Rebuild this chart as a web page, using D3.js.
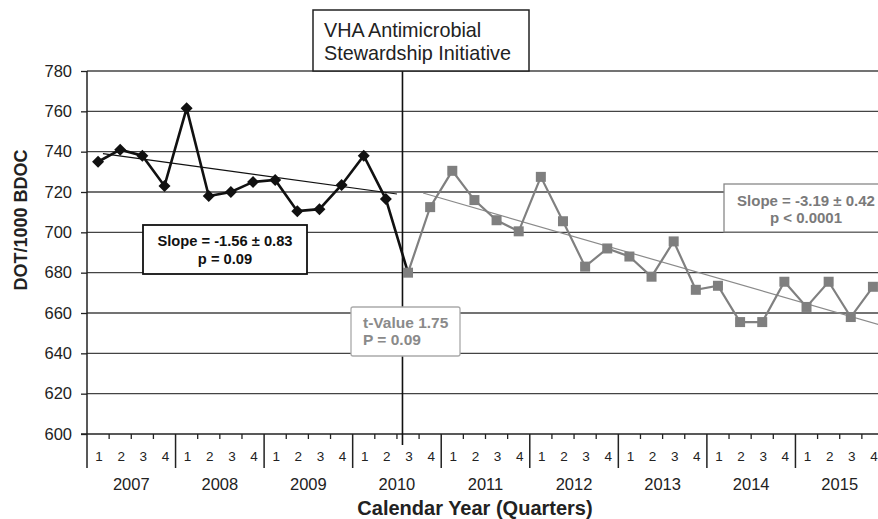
<!DOCTYPE html>
<html><head><meta charset="utf-8">
<script src="https://cdn.jsdelivr.net/npm/d3@7"></script>
<style>body{margin:0;background:#fff}svg{display:block}text{font-family:"Liberation Sans",Arial,sans-serif}</style>
</head><body><svg id="c" width="878" height="519"></svg>
<script>
const years = ["2007","2008","2009","2010","2011","2012","2013","2014","2015"];
const quarterLabels = ["1","2","3","4"];
const yTicks = [600,620,640,660,680,700,720,740,760,780];
// Pre-initiative quarters (2007 Q1 .. 2010 Q2), then connecting to 2010 Q3
const preValues = [735,741,738,723,761.5,718,720,725,726,710.5,711.5,723.5,738,716.5];
// Post-initiative quarters (2010 Q3 .. 2015 Q4)
const postValues = [680,712.5,730.5,716,706,700.5,727.5,705.5,683,692,688,678,695.5,671.5,673.5,655.5,655.5,675.5,663,675.5,658,673];
const preTrend = [[0.72,739],[14.0,719]];   // [quarter position, value]
const postTrend = [[15.18,719.5],[36,653.5]];
const initiativeAt = 14.25;

const svg = d3.select("#c");
const nQ = years.length*4;
const x = d3.scaleLinear().domain([0,nQ]).range([87,884]);
const y = d3.scaleLinear().domain([600,780]).range([434,71]);

// gridlines
svg.append("g").selectAll("line").data(yTicks.filter(v=>v>600)).join("line")
  .attr("x1",87).attr("x2",878).attr("y1",d=>y(d)).attr("y2",d=>y(d))
  .attr("stroke","#444").attr("stroke-width",1.3);

// y axis
const ya = svg.append("g").attr("transform","translate(87,0)")
  .call(d3.axisLeft(y).tickValues(yTicks).tickSize(6).tickPadding(9));
ya.select(".domain").attr("stroke","#222").attr("stroke-width",1.5).attr("d","M0,71V468");
ya.selectAll(".tick line").attr("stroke","#222").attr("stroke-width",1.3);
ya.selectAll(".tick text").attr("font-size",16.5).attr("fill","#222").attr("font-family","Liberation Sans, Arial");

// x axis line
svg.append("line").attr("x1",81).attr("x2",878).attr("y1",434).attr("y2",434).attr("stroke","#222").attr("stroke-width",1.5);
// quarter ticks
svg.append("g").selectAll("line").data(d3.range(1,nQ).filter(i=>i%4!==0)).join("line")
  .attr("x1",d=>x(d)).attr("x2",d=>x(d)).attr("y1",434).attr("y2",439)
  .attr("stroke","#222").attr("stroke-width",1.3);
// year separators
svg.append("g").selectAll("line").data(d3.range(4,nQ,4)).join("line")
  .attr("x1",d=>x(d)).attr("x2",d=>x(d)).attr("y1",434).attr("y2",468)
  .attr("stroke","#222").attr("stroke-width",1.5);
// quarter labels
const qData = d3.range(nQ).map(i=>({i, t:quarterLabels[i%4]}));
svg.append("g").selectAll("text").data(qData).join("text")
  .attr("x",d=>x(d.i+0.5)+1).attr("y",461).attr("text-anchor","middle")
  .attr("font-family","DejaVu Sans Mono, monospace").attr("font-size",13.5).attr("fill","#222").text(d=>d.t);
// year labels
svg.append("g").selectAll("text").data(years).join("text")
  .attr("x",(d,i)=>x(i*4+2)).attr("y",490).attr("text-anchor","middle")
  .attr("font-size",16.5).attr("fill","#222").text(d=>d);

// axis titles
svg.append("text").attr("x",475).attr("y",515).attr("text-anchor","middle")
  .attr("font-size",20).attr("font-weight","bold").attr("fill","#222").text("Calendar Year (Quarters)");
svg.append("text").attr("transform","translate(27,220) rotate(-90)").attr("text-anchor","middle")
  .attr("font-size",18).attr("font-weight","bold").attr("fill","#222").text("DOT/1000 BDOC");

// initiative line
svg.append("line").attr("x1",x(initiativeAt)).attr("x2",x(initiativeAt)).attr("y1",71).attr("y2",445)
  .attr("stroke","#111").attr("stroke-width",1.6);

// trend lines
const line = d3.line().x(d=>x(d[0])).y(d=>y(d[1]));
svg.append("path").attr("d",line(postTrend)).attr("stroke","#8a8a8a").attr("stroke-width",1.2).attr("fill","none");
svg.append("path").attr("d",line(preTrend)).attr("stroke","#111").attr("stroke-width",1.2).attr("fill","none");

// post series
const postPts = postValues.map((v,i)=>[preValues.length+i+0.5, v]);
svg.append("path").attr("d",line(postPts)).attr("stroke","#808080").attr("stroke-width",2.2).attr("fill","none");
// pre series (connects to first post point)
const prePts = preValues.map((v,i)=>[i+0.5,v]).concat([postPts[0]]);
svg.append("path").attr("d",line(prePts)).attr("stroke","#111").attr("stroke-width",2.6).attr("fill","none");

svg.append("g").selectAll("rect").data(postPts).join("rect")
  .attr("x",d=>x(d[0])-5).attr("y",d=>y(d[1])-5).attr("width",10).attr("height",10)
  .attr("fill","#7f7f7f");
svg.append("g").selectAll("path").data(prePts.slice(0,preValues.length)).join("path")
  .attr("d",d=>`M${x(d[0])},${y(d[1])-6}l6,6l-6,6l-6,-6z`).attr("fill","#111");

// annotation boxes
function box(x0,y0,w,h,stroke,sw){
  svg.append("rect").attr("x",x0).attr("y",y0).attr("width",w).attr("height",h)
    .attr("fill","#fff").attr("stroke",stroke).attr("stroke-width",sw);
}
box(313,10,216,61,"#222",1.5);
svg.append("text").attr("x",324).attr("y",37).attr("font-size",19.8).attr("fill","#222").text("VHA Antimicrobial");
svg.append("text").attr("x",324).attr("y",60).attr("font-size",19.8).attr("fill","#222").text("Stewardship Initiative");

box(143,225,164,49,"#111",1.8);
svg.append("text").attr("x",225).attr("y",246).attr("text-anchor","middle").attr("font-size",14.7).attr("font-weight","bold").attr("fill","#111").text("Slope = -1.56 \u00b1 0.83");
svg.append("text").attr("x",225).attr("y",264).attr("text-anchor","middle").attr("font-size",14.7).attr("font-weight","bold").attr("fill","#111").text("p = 0.09");

box(724,184,170,48,"#888",1.3);
svg.append("text").attr("x",806).attr("y",206).attr("text-anchor","middle").attr("font-size",15).attr("fill","#7a7a7a").attr("font-weight",600).text("Slope = -3.19 \u00b1 0.42");
svg.append("text").attr("x",806).attr("y",223).attr("text-anchor","middle").attr("font-size",15).attr("fill","#7a7a7a").attr("font-weight",600).text("p < 0.0001");

svg.append("rect").attr("x",351).attr("y",307).attr("width",109).attr("height",49).attr("rx",2)
  .attr("fill","#fff").attr("stroke","#aaa").attr("stroke-width",1.3);
svg.append("text").attr("x",363).attr("y",328).attr("font-size",15.5).attr("fill","#8a8a8a").attr("font-weight",600).text("t-Value 1.75");
svg.append("text").attr("x",363).attr("y",345).attr("font-size",15.5).attr("fill","#8a8a8a").attr("font-weight",600).text("P = 0.09");
</script></body></html>
